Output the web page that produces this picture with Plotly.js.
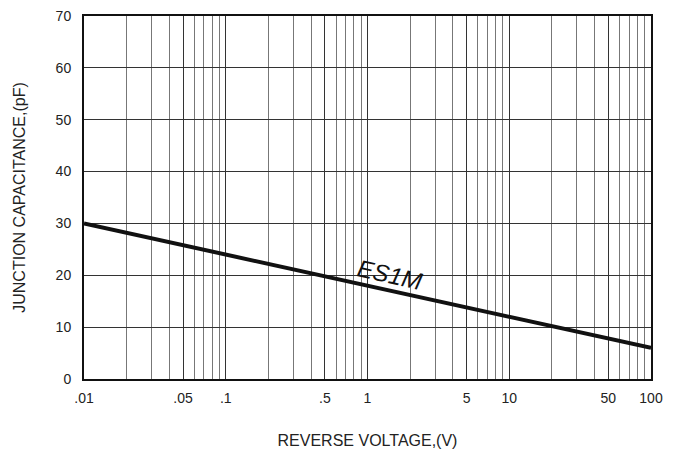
<!DOCTYPE html>
<html>
<head>
<meta charset="utf-8">
<script src="https://cdn.plot.ly/plotly-3.0.1.min.js"></script>
<style>html,body{margin:0;padding:0;background:#fff;}#chart{width:681px;height:455px;}</style>
</head>
<body>
<div id="chart"></div>
<script>
// Data
const voltage = [0.01, 100];
const capacitance = [30, 6];
const seriesName = "ES1M";
const xTickVals = [0.01, 0.05, 0.1, 0.5, 1, 5, 10, 50, 100];
const xTickText = [".01", ".05", ".1", ".5", "1", "5", "10", "50", "100"];
const xMinorVals = [0.02, 0.03, 0.04, 0.06, 0.07, 0.08, 0.09,
                    0.2, 0.3, 0.4, 0.6, 0.7, 0.8, 0.9,
                    2, 3, 4, 6, 7, 8, 9,
                    20, 30, 40, 60, 70, 80, 90];
const yTickVals = [0, 10, 20, 30, 40, 50, 60, 70];

const font = {family: "Liberation Sans, Arial, sans-serif", color: "#222"};

const trace = {
  x: voltage, y: capacitance, type: "scatter", mode: "lines",
  line: {color: "#111", width: 4}, name: seriesName, hoverinfo: "skip"
};

const layout = {
  width: 681, height: 455,
  margin: {l: 84, r: 30, t: 16, b: 76},
  paper_bgcolor: "#fff", plot_bgcolor: "#fff",
  showlegend: false,
  font: Object.assign({size: 14}, font),
  xaxis: {
    type: "log", range: [-2, 2],
    tickmode: "array", tickvals: xTickVals, ticktext: xTickText,
    showgrid: true, gridcolor: "#333", gridwidth: 1,
    minor: {tickmode: "array", tickvals: xMinorVals, showgrid: true, gridcolor: "#777", gridwidth: 1, ticks: ""},
    showline: true, linecolor: "#111", linewidth: 2, mirror: true,
    ticks: "", ticklabelstandoff: 5,
    zeroline: false,
    tickfont: Object.assign({size: 14}, font),
    title: {text: "REVERSE VOLTAGE,(V)", font: Object.assign({size: 16}, font), standoff: 30}
  },
  yaxis: {
    range: [0, 70], tickmode: "array", tickvals: yTickVals,
    showgrid: true, gridcolor: "#333", gridwidth: 1,
    showline: true, linecolor: "#111", linewidth: 2, mirror: true,
    ticks: "", ticklabelstandoff: 8, zeroline: false,
    tickfont: Object.assign({size: 14}, font),
    title: {text: "JUNCTION CAPACITANCE,(pF)", font: Object.assign({size: 16}, font), standoff: 26}
  },
  annotations: [{
    text: "<i>" + seriesName + "</i>", xref: "x", yref: "y",
    x: Math.log10(1.42), y: 20.1, showarrow: false, textangle: 12.5,
    font: Object.assign({size: 24}, font, {color: "#111"})
  }]
};

Plotly.newPlot("chart", [trace], layout, {staticPlot: true, displayModeBar: false});
</script>
</body>
</html>
